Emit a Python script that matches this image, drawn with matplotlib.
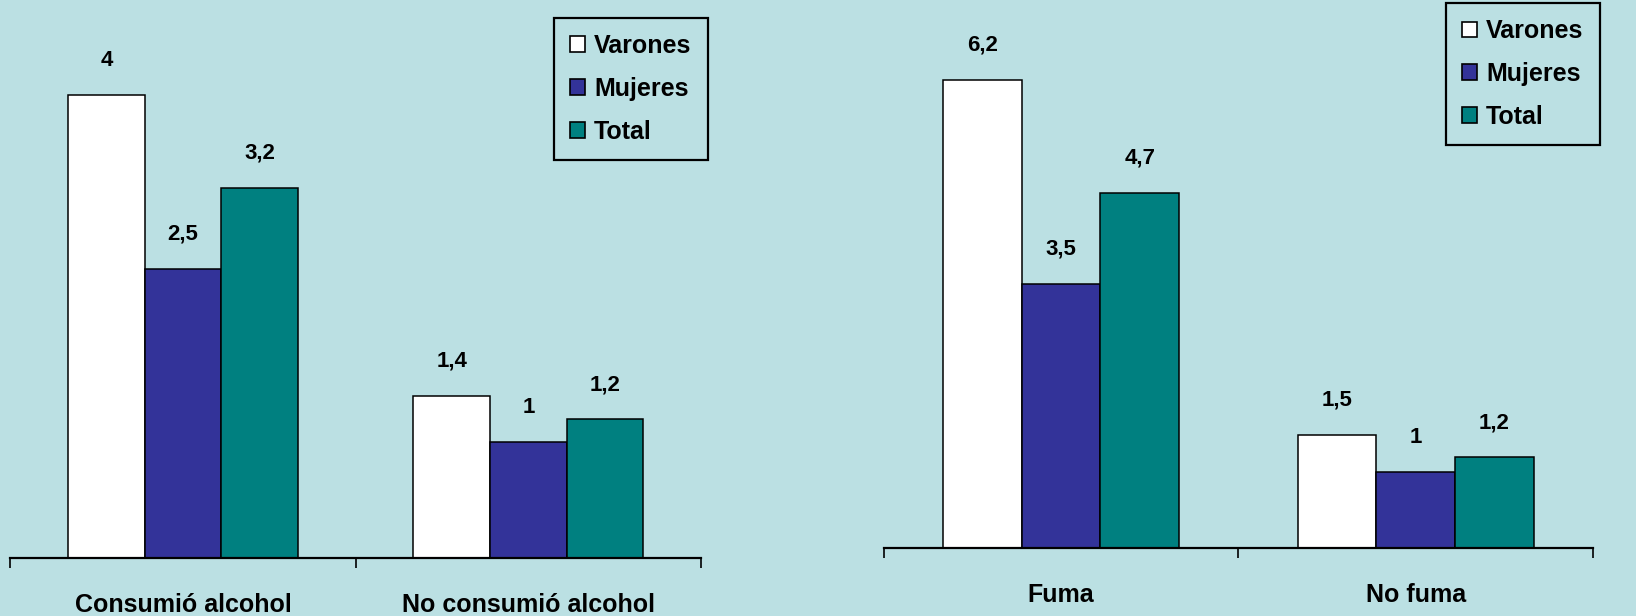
import matplotlib.pyplot as plt
import numpy as np

# data
series = ['Varones', 'Mujeres', 'Total']
colors = ['#FFFFFF', '#333399', '#008080']

cats_left = ['Consumió alcohol', 'No consumió alcohol']
vals_left = {'Varones': [4, 1.4], 'Mujeres': [2.5, 1], 'Total': [3.2, 1.2]}

cats_right = ['Fuma', 'No fuma']
vals_right = {'Varones': [6.2, 1.5], 'Mujeres': [3.5, 1], 'Total': [4.7, 1.2]}

bg = '#BBE0E3'
plt.rcParams['font.family'] = ['Liberation Sans Narrow', 'Liberation Sans', 'DejaVu Sans']

fig = plt.figure(figsize=(16.36, 6.16), dpi=100, facecolor=bg)
ax1 = fig.add_axes([0.0064, 0.0938, 0.4221, 0.9062])
ax2 = fig.add_axes([0.5402, 0.1107, 0.4336, 0.8893])


def draw(ax, cats, vals, ymax):
    ax.set_facecolor(bg)
    x = np.arange(len(cats)) + 0.5
    w = 0.222
    for i, s in enumerate(series):
        pos = x + (i - 1) * w
        bars = ax.bar(pos, vals[s], w, color=colors[i], edgecolor='black', linewidth=1.1)
        for b, v in zip(bars, vals[s]):
            ax.annotate(f'{v:g}'.replace('.', ','), (b.get_x() + w / 2, v),
                        xytext=(0, 25), textcoords='offset points',
                        ha='center', va='center', fontsize=16, fontweight='bold')
    ax.set_xlim(0, len(cats))
    ax.set_ylim(0, ymax)
    for sp in ['top', 'right', 'left']:
        ax.spines[sp].set_visible(False)
    ax.spines['bottom'].set_linewidth(1.6)
    ax.set_yticks([])
    ax.set_xticks(x)
    ax.set_xticklabels(cats, fontsize=18, fontweight='bold')
    ax.tick_params(axis='x', which='major', length=0, pad=25)
    ax.set_xticks(np.arange(len(cats) + 1), minor=True)
    ax.tick_params(axis='x', which='minor', length=7.5, width=1.2, direction='out')


draw(ax1, cats_left, vals_left, 4.82)
draw(ax2, cats_right, vals_right, 7.26)

handles = [plt.Rectangle((0, 0), 1, 1, facecolor=c, edgecolor='black', linewidth=1.2) for c in colors]
for anchor in [(0.3386, 0.9708), (0.8839, 0.9951)]:
    leg = fig.legend(handles, series, loc='upper left', bbox_to_anchor=anchor,
                     prop={'size': 18, 'weight': 'bold'}, fancybox=False,
                     facecolor=bg, edgecolor='black', framealpha=1,
                     handlelength=0.6, handleheight=0.6, handletextpad=0.35,
                     labelspacing=0.75, borderpad=0.65, borderaxespad=0)
    leg.get_frame().set_linewidth(1.6)

plt.savefig('out.png', dpi=100, facecolor=bg)
